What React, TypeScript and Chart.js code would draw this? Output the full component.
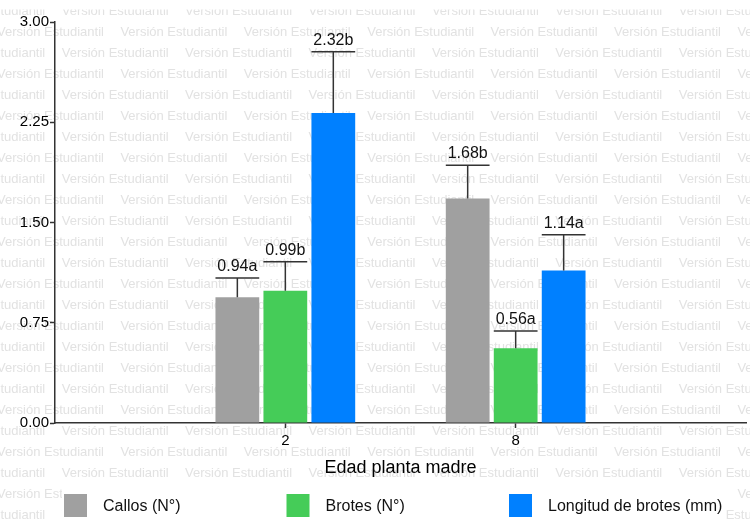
import React, { useEffect, useRef } from 'react';
import { Chart, registerables } from 'chart.js';

Chart.register(...registerables);

// ---- data ----
const groupLabels = ['2', '8'];
const seriesNames = ['Callos (N°)', 'Brotes (N°)', 'Longitud de brotes (mm)'];
const callos = [0.94, 1.68];
const brotes = [0.99, 0.56];
const longitud = [2.32, 1.14];
const callosErr = [0.145, 0.248];
const brotesErr = [0.217, 0.128];
const longitudErr = [0.458, 0.269];
const callosLetters = ['a', 'b'];
const brotesLetters = ['b', 'a'];
const longitudLetters = ['b', 'a'];
const yTicks = [0, 0.75, 1.5, 2.25, 3];
const xTitle = 'Edad planta madre';
const watermarkText = 'Versión Estudiantil';

const colors = ['#a0a0a0', '#45cc58', '#0080ff'];
const FONT = "'Liberation Sans', Arial, sans-serif";

const categories = ['', ...groupLabels, ''];
const pad = (arr: any[]) => [null, ...arr, null];

const watermarkPlugin = {
  id: 'watermark',
  beforeDraw(chart: any) {
    const { ctx, width, height } = chart;
    ctx.save();
    ctx.fillStyle = '#ffffff';
    ctx.fillRect(0, 0, width, height);
    ctx.font = `13px ${FONT}`;
    ctx.fillStyle = '#e2e2e2';
    ctx.textBaseline = 'middle';
    ctx.textAlign = 'left';
    const step = 123.4;
    for (let k = 0; k < 26; k++) {
      const y = 11.3 + 21 * k;
      const off = k % 2 === 0 ? 61.7 : -3;
      for (let x = off - step; x < width; x += step) {
        ctx.fillText(watermarkText, x, y);
      }
    }
    ctx.fillStyle = '#ffffff';
    ctx.fillRect(0, 0, width, 9.5);
    ctx.restore();
  },
};

const errorPlugin = {
  id: 'errorBars',
  afterDatasetsDraw(chart: any) {
    const { ctx } = chart;
    const yScale = chart.scales.y;
    ctx.save();
    chart.data.datasets.forEach((ds: any, i: number) => {
      const meta = chart.getDatasetMeta(i);
      meta.data.forEach((bar: any, j: number) => {
        const v = ds.data[j];
        if (v === null || v === undefined) return;
        const err = ds.errors[j - 1];
        const letter = ds.letters[j - 1];
        const x = bar.x;
        const w = bar.width;
        const yTop = yScale.getPixelForValue(v);
        const yErr = yScale.getPixelForValue(v + err);
        ctx.strokeStyle = '#333333';
        ctx.lineWidth = 1.5;
        ctx.beginPath();
        ctx.moveTo(x, yTop);
        ctx.lineTo(x, yErr);
        ctx.moveTo(x - w / 2, yErr);
        ctx.lineTo(x + w / 2, yErr);
        ctx.stroke();
        ctx.fillStyle = '#111111';
        ctx.font = `16px ${FONT}`;
        ctx.textAlign = 'center';
        ctx.textBaseline = 'alphabetic';
        ctx.fillText(v.toFixed(2) + letter, x, yErr - 7);
      });
    });
    ctx.restore();
  },
};

const legendPlugin = {
  id: 'customLegend',
  afterDraw(chart: any) {
    const { ctx } = chart;
    ctx.save();
    ctx.fillStyle = '#ffffff';
    ctx.fillRect(62, 489, 662, 32);
    ctx.font = `16px ${FONT}`;
    ctx.textAlign = 'left';
    ctx.textBaseline = 'middle';
    chart.data.datasets.forEach((ds: any, i: number) => {
      const x = 64 + 222.5 * i;
      ctx.fillStyle = ds.backgroundColor;
      ctx.fillRect(x, 494, 23, 23);
      ctx.fillStyle = '#111111';
      ctx.fillText(ds.label, x + 39, 507);
    });
    ctx.restore();
  },
};

export default function App() {
  const ref = useRef<HTMLCanvasElement | null>(null);

  useEffect(() => {
    if (!ref.current) return;
    const mk = (idx: number, values: number[], errors: number[], letters: string[]) => ({
      label: seriesNames[idx],
      data: pad(values),
      errors,
      letters,
      backgroundColor: colors[idx],
      borderWidth: 0,
      categoryPercentage: 0.625,
      barPercentage: 0.912,
    });
    const chart = new Chart(ref.current, {
      type: 'bar',
      data: {
        labels: categories,
        datasets: [
          mk(0, callos, callosErr, callosLetters),
          mk(1, brotes, brotesErr, brotesLetters),
          mk(2, longitud, longitudErr, longitudLetters),
        ] as any,
      },
      options: {
        responsive: false,
        animation: false,
        layout: { padding: { top: 22, bottom: 35, left: 0, right: 0 } },
        plugins: {
          legend: { display: false },
          tooltip: { enabled: false },
        },
        scales: {
          x: {
            offset: false,
            grid: {
              offset: false,
              drawOnChartArea: false,
              drawTicks: true,
              tickLength: 5,
              tickWidth: 1.5,
              tickColor: (c: any) => (c.index === 1 || c.index === 2 ? '#333333' : 'rgba(0,0,0,0)'),
            },
            border: { color: '#333333', width: 1.5 },
            ticks: {
              autoSkip: false,
              maxRotation: 0,
              padding: 4,
              color: '#000000',
              font: { family: FONT, size: 15 },
            },
            title: {
              display: true,
              text: xTitle,
              color: '#000000',
              font: { family: FONT, size: 18 },
              padding: { top: 0, bottom: 7 },
            },
            afterFit: (s: any) => {
              s.height = 63;
            },
          },
          y: {
            min: 0,
            max: 3,
            afterBuildTicks: (s: any) => {
              s.ticks = yTicks.map((v) => ({ value: v }));
            },
            grid: {
              drawOnChartArea: false,
              drawTicks: true,
              tickLength: 5,
              tickWidth: 1.5,
              tickColor: '#333333',
            },
            border: { color: '#333333', width: 1.5 },
            ticks: {
              padding: 1,
              color: '#000000',
              font: { family: FONT, size: 15 },
              callback: (v: any) => Number(v).toFixed(2),
            },
            afterFit: (s: any) => {
              s.width = 55;
            },
          },
        },
      } as any,
      plugins: [watermarkPlugin, errorPlugin, legendPlugin],
    });
    return () => chart.destroy();
  }, []);

  return (
    <div style={{ position: 'fixed', left: 0, top: 0, width: 750, height: 521 }}>
      <canvas ref={ref} width={750} height={521} />
    </div>
  );
}
